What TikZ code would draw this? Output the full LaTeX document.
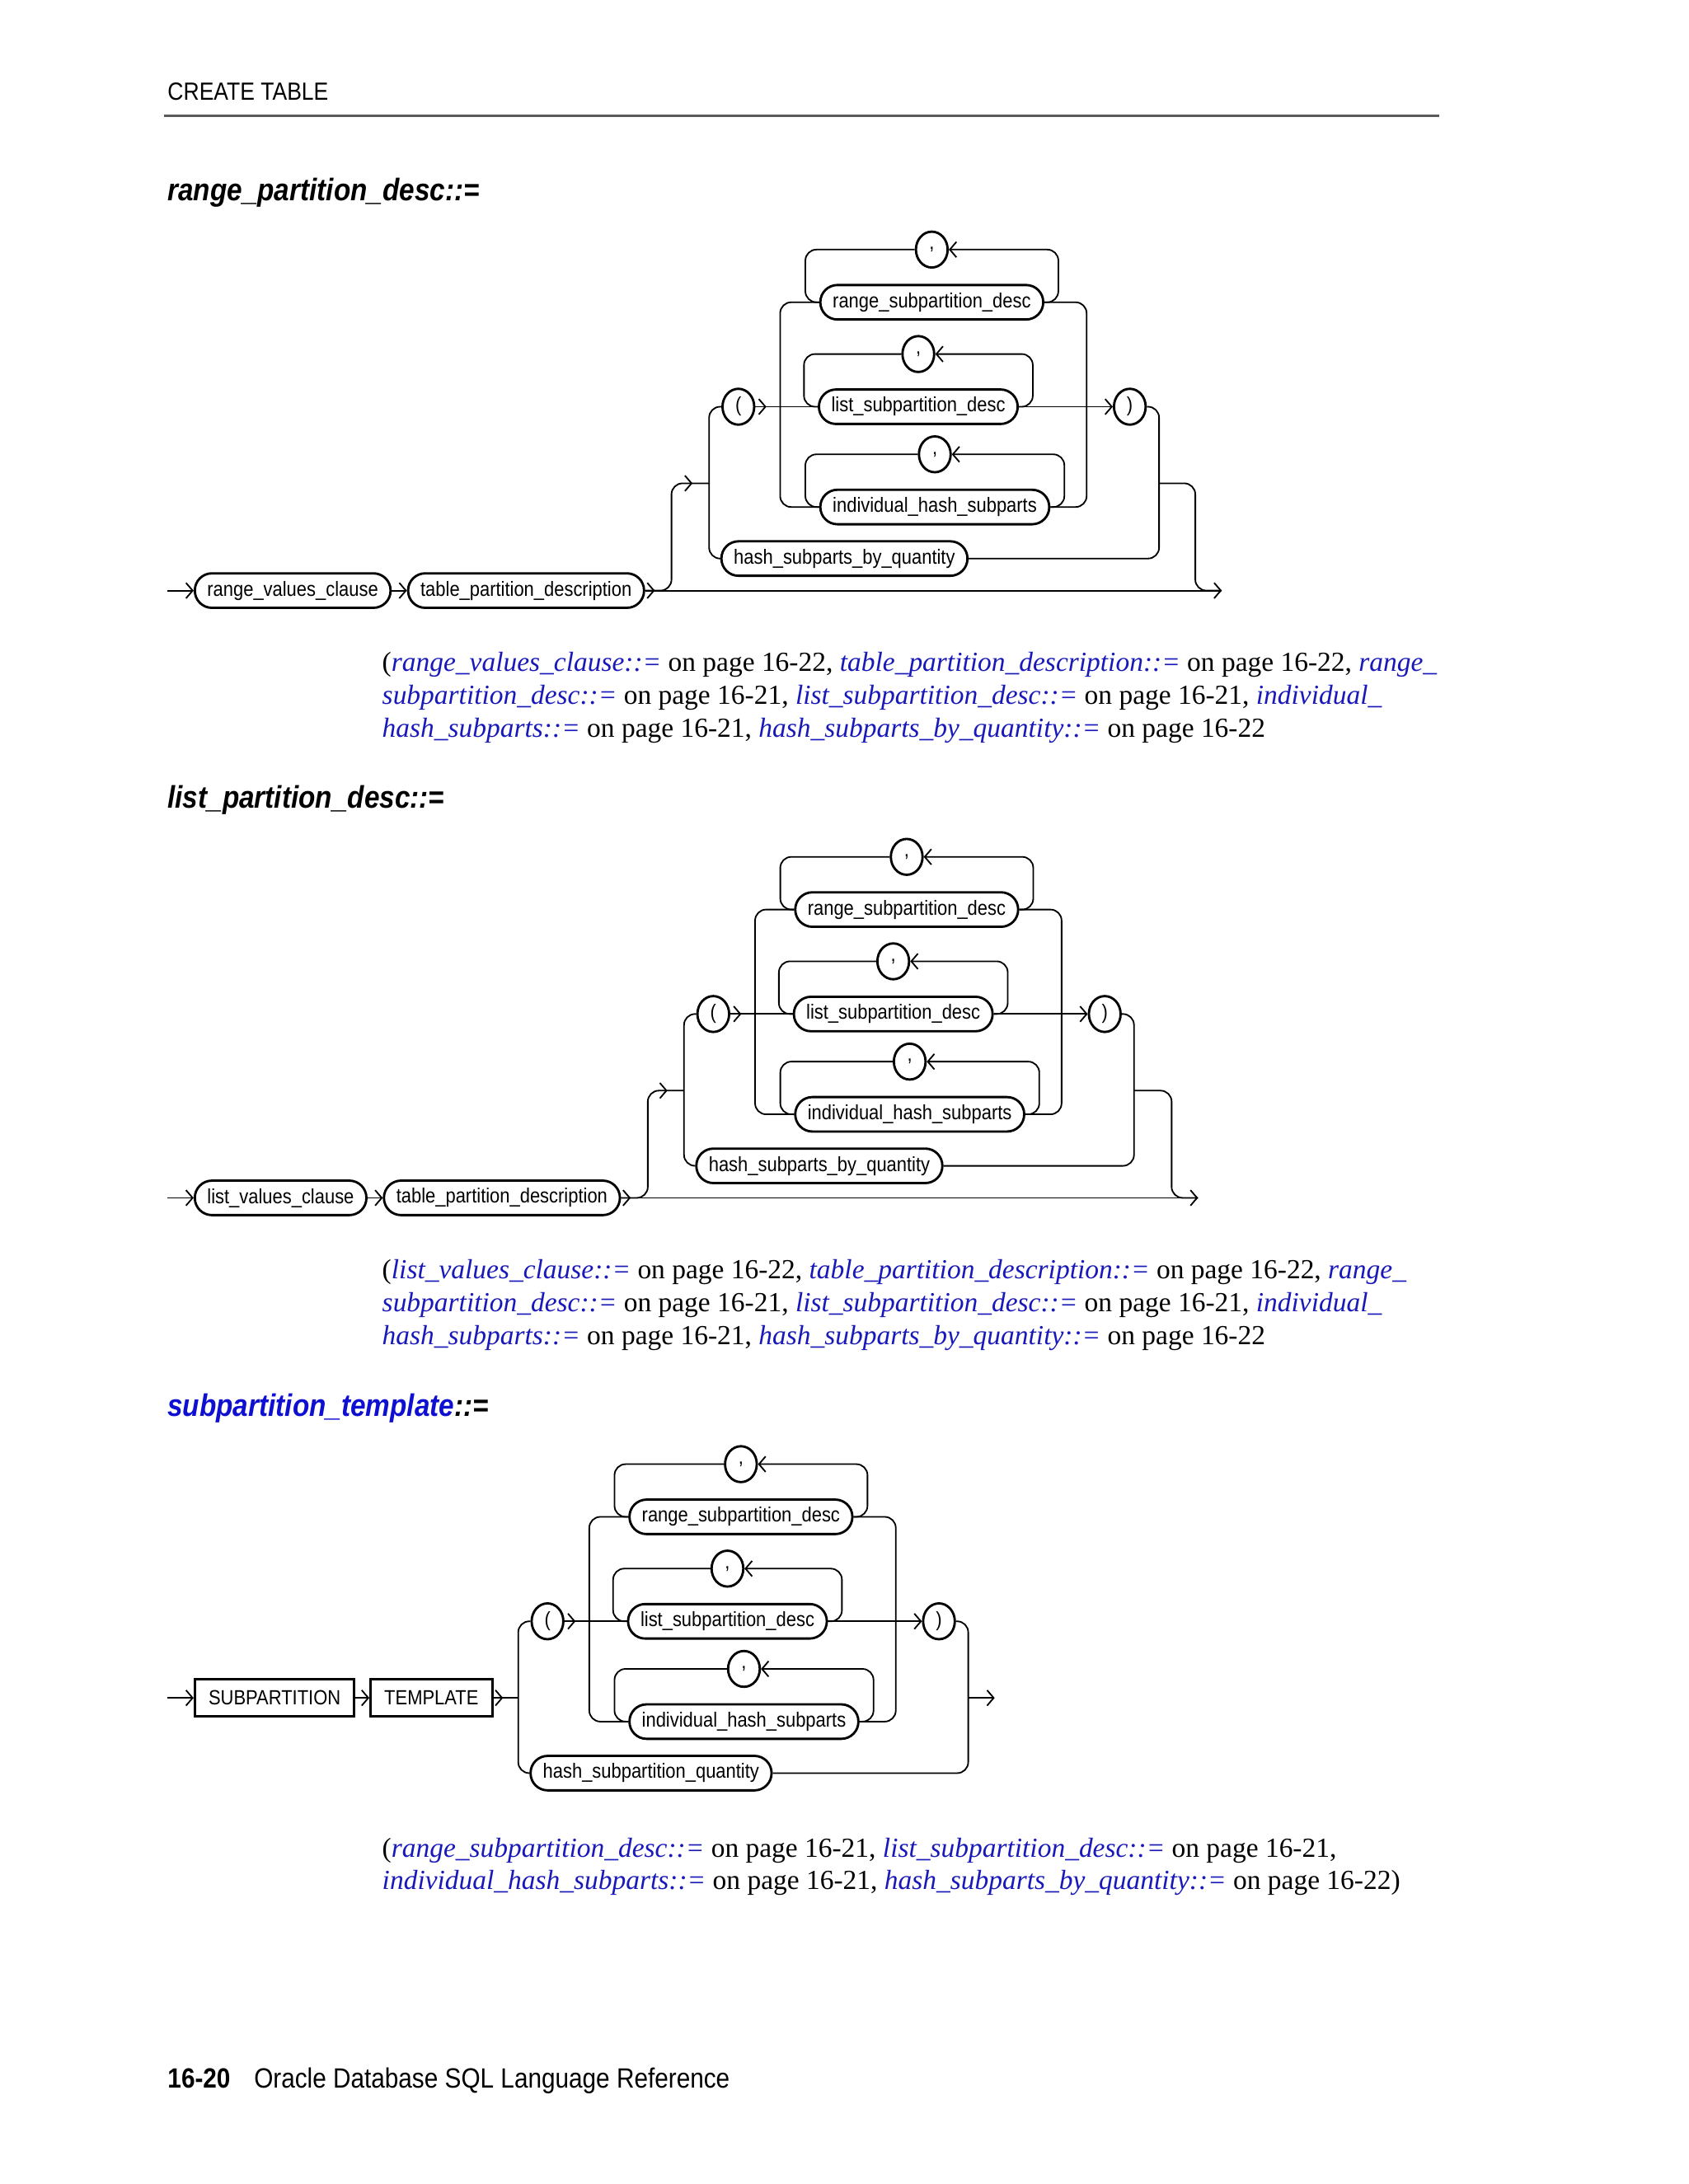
\documentclass[tikz,border=0pt]{standalone}
\usepackage{fontspec}
\setmainfont{Liberation Serif}
\newfontfamily\narrowsf[FakeStretch=0.88]{Liberation Sans}
\usetikzlibrary{arrows.meta,positioning,shapes.geometric,decorations.markings}
\definecolor{linkblue}{RGB}{25,25,185}
\definecolor{titleblue}{RGB}{15,15,210}
\definecolor{rulegray}{RGB}{90,90,90}
\newcommand{\diagfont}{\narrowsf\fontsize{7.45}{8.8}\selectfont}
\newcommand{\reflink}[1]{{\color{linkblue}\itshape #1}}

\begin{document}
\begin{tikzpicture}[
    x=0.505pt, y=-0.505pt,
    >={Straight Barb[length=2.4pt,width=5.6pt]},
    rail/.style={line width=0.55pt, rounded corners=4pt},
    tipafter/.style={postaction={decorate}, decoration={markings, mark=at position #1 with {\arrow{>}}}},
    box/.style={rectangle, draw, line width=0.85pt, rounded corners=6.2pt, minimum height=12.5pt, inner xsep=4.5pt, inner ysep=0pt, font=\diagfont},
    kw/.style={rectangle, draw, line width=0.85pt, minimum height=13.5pt, inner xsep=5pt, inner ysep=0pt, font=\diagfont},
    punct/.style={ellipse, draw, line width=0.85pt, minimum width=11.5pt, minimum height=13pt, inner sep=0pt, font=\diagfont},
    heading/.style={anchor=base west, inner sep=0pt, font=\narrowsf\bfseries\itshape\fontsize{11.3}{13}\selectfont},
    refs/.style={anchor=north west, inner sep=0pt, align=left, font=\fontsize{10}{11.9}\selectfont}
  ]
  \useasboundingbox (0,0) rectangle (1212,1568);

  % page head
  \node[anchor=base west, inner sep=0pt, font=\narrowsf\fontsize{9}{11}\selectfont] (hdr) at (120,72) {CREATE TABLE};
  \draw[rulegray, line width=0.8pt] (118,83) -- (1033,83);

  \node[heading] (t1) at (120,144) {range\_partition\_desc::=};
  \node[heading] (t2) at (120,580) {list\_partition\_desc::=};
  \node[heading] (t3) at (120,1017) {\textcolor{titleblue}{subpartition\_template}::=};

  % the ( ... ) group, same in all three diagrams
  \foreach \gx/\gy/\hlabel/\pre in {0/0/hash\_subparts\_by\_quantity/a, -18/436/hash\_subparts\_by\_quantity/b, -137/872/hash\_subpartition\_quantity/c} {
    \begin{scope}[shift={(\gx,\gy)}, name prefix=\pre-]
      \node[punct] (lp) at (530,292) {(};
      \node[punct] (rp) at (811,292) {)};
      \node[box, anchor=west] (r) at (588,217) {range\_subpartition\_desc};
      \node[box, anchor=west] (l) at (587,292) {list\_subpartition\_desc};
      \node[box, anchor=west] (i) at (588,364) {individual\_hash\_subparts};
      \node[box, anchor=west] (h) at (517,401) {\hlabel};
      \node[punct, above=5.5pt of r] (c1) {,};
      \node[punct, above=5.5pt of l] (c2) {,};
      \node[punct, above=5.5pt of i] (c3) {,};
      \coordinate (in) at (509,347);
      \coordinate (out) at (832,347);

      \draw[rail] (lp.west) -| (in) |- (h.west);
      \draw[rail] (rp.east) -| (out) |- (h.east);
      \draw[rail, tipafter=4pt] (lp.east) -- (l.west);
      \draw[rail, ->] (l.east) -- (rp.west);
      \draw[rail] (r.west) -| (560,292) |- (i.west);
      \draw[rail] (r.east) -| (780,292) |- (i.east);
      \foreach \b/\c in {r/c1, l/c2, i/c3} {
        \draw[rail, ->] (\b.east) -- ++(10,0) |- (\c.east);
        \draw[rail] (\c.west) -| ([xshift=-5pt]\b.west) -- (\b.west);
      }
    \end{scope}
  }

  % range_partition_desc
  \coordinate (s1) at (120,424);
  \coordinate (e1) at (877,424);
  \node[box, anchor=west] (rvc) at (139,424) {range\_values\_clause};
  \node[box, right=5.5pt of rvc] (tpd1) {table\_partition\_description};
  \draw[rail, ->] (s1) -- (rvc.west);
  \draw[rail, ->] (rvc.east) -- (tpd1.west);
  \draw[rail, ->, tipafter=3.5pt] (tpd1.east) -- (e1);
  \draw[rail, tipafter=-6pt] (tpd1.east) -- (482,424) |- (a-in);
  \draw[rail] (a-out) -| (858,424) -- (e1);

  % list_partition_desc
  \coordinate (s2) at (120,860);
  \coordinate (e2) at (860,860);
  \node[box, anchor=west] (lvc) at (139,860) {list\_values\_clause};
  \node[box, right=5.5pt of lvc] (tpd2) {table\_partition\_description};
  \draw[rail, ->] (s2) -- (lvc.west);
  \draw[rail, ->] (lvc.east) -- (tpd2.west);
  \draw[rail, ->, tipafter=3.5pt] (tpd2.east) -- (e2);
  \draw[rail, tipafter=-6pt] (tpd2.east) -- (465,860) |- (b-in);
  \draw[rail] (b-out) -| (841,860) -- (e2);

  % subpartition_template
  \coordinate (s3) at (120,1219);
  \coordinate (e3) at (714,1219);
  \node[kw, anchor=west] (sbp) at (139,1219) {SUBPARTITION};
  \node[kw, right=5pt of sbp] (tmpl) {TEMPLATE};
  \draw[rail, ->] (s3) -- (sbp.west);
  \draw[rail, ->] (sbp.east) -- (tmpl.west);
  \draw[rail, tipafter=3.5pt] (tmpl.east) -- (c-in);
  \draw[rail, ->] (c-out) -- (e3);

  % cross references
  \node[refs] (ref1) at (274,468) {(\reflink{range\_values\_clause::=} on page 16-22, \reflink{table\_partition\_description::=} on page 16-22, \reflink{range\_}\\
    \reflink{subpartition\_desc::=} on page 16-21, \reflink{list\_subpartition\_desc::=} on page 16-21, \reflink{individual\_}\\
    \reflink{hash\_subparts::=} on page 16-21, \reflink{hash\_subparts\_by\_quantity::=} on page 16-22};
  \node[refs] (ref2) at (274,904) {(\reflink{list\_values\_clause::=} on page 16-22, \reflink{table\_partition\_description::=} on page 16-22, \reflink{range\_}\\
    \reflink{subpartition\_desc::=} on page 16-21, \reflink{list\_subpartition\_desc::=} on page 16-21, \reflink{individual\_}\\
    \reflink{hash\_subparts::=} on page 16-21, \reflink{hash\_subparts\_by\_quantity::=} on page 16-22};
  \node[refs] (ref3) at (274,1319) {(\reflink{range\_subpartition\_desc::=} on page 16-21, \reflink{list\_subpartition\_desc::=} on page 16-21,\\
    \reflink{individual\_hash\_subparts::=} on page 16-21, \reflink{hash\_subparts\_by\_quantity::=} on page 16-22)};

  % page foot
  \node[anchor=base west, inner sep=0pt, font=\narrowsf\bfseries\fontsize{10.1}{12}\selectfont] (pg) at (120,1499) {16-20};
  \node[anchor=base west, inner sep=0pt, font=\narrowsf\fontsize{10.1}{12}\selectfont] (book) at (182,1499) {Oracle Database SQL Language Reference};
\end{tikzpicture}
\end{document}
